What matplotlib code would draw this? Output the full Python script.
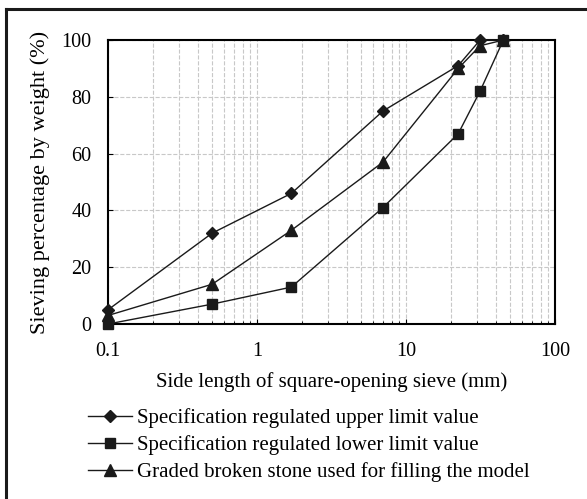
import matplotlib.pyplot as plt
from matplotlib.lines import Line2D

plt.rcParams['font.family'] = ['Liberation Serif', 'DejaVu Serif']

# 篩孔尺寸 (mm)
sizes = [0.1, 0.5, 1.7, 7, 22.4, 31.4, 45]
upper = [5, 32, 46, 75, 91, 100, 100]
lower = [0, 7, 13, 41, 67, 82, 100]
graded = [3, 14, 33, 57, 90, 98, 100]

labels = ['Specification regulated upper limit value',
          'Specification regulated lower limit value',
          'Graded broken stone used for filling the model']

fig = plt.figure(figsize=(5.87, 4.99), dpi=100)
ax = fig.add_axes([0.184, 0.3507, 0.7615, 0.569])

c = '#1a1a1a'
ax.plot(sizes, upper, color=c, lw=1.0, marker='D', ms=5.8, label=labels[0], clip_on=False, zorder=3)
ax.plot(sizes, lower, color=c, lw=1.0, marker='s', ms=7.5, label=labels[1], clip_on=False, zorder=3)
ax.plot(sizes, graded, color=c, lw=1.0, marker='^', ms=9, label=labels[2], clip_on=False, zorder=3)

ax.set_xscale('log')
ax.set_xlim(0.1, 100)
ax.set_ylim(0, 100)
ax.set_yticks(range(0, 101, 20))
ax.set_xticks([0.1, 1, 10, 100])
ax.set_xticklabels(['0.1', '1', '10', '100'])

# 格線
ax.grid(True, which='major', color='#c8c8c8', ls='--', lw=0.8)
ax.grid(True, which='minor', axis='x', color='#c8c8c8', ls='--', lw=0.8)
ax.set_axisbelow(True)

ax.tick_params(which='both', direction='in', labelsize=14.5, top=False, right=False)
ax.tick_params(axis='x', pad=13)
ax.tick_params(axis='y', pad=12)
for s in ax.spines.values():
    s.set_linewidth(1.5)

ax.set_xlabel('Side length of square-opening sieve (mm)', fontsize=15, va='center')
ax.xaxis.set_label_coords(0.5, -0.204)
ax.set_ylabel('Sieving percentage by weight (%)', fontsize=16, va='center')
ax.yaxis.set_label_coords(-0.152, 0.5)

ax.legend(loc='upper left', bbox_to_anchor=(0.150, 0.182), bbox_transform=fig.transFigure,
          frameon=False, fontsize=15, handlelength=2.1, handletextpad=0.25,
          labelspacing=0.35, borderaxespad=0, borderpad=0)

# 外框 (只有上緣和左緣)
fig.add_artist(Line2D([6 / 587, 6 / 587], [0, 1 - 9 / 499], color=c, lw=2.2, transform=fig.transFigure))
fig.add_artist(Line2D([6 / 587, 1], [1 - 9 / 499, 1 - 9 / 499], color=c, lw=2.2, transform=fig.transFigure))

fig.savefig('out.png', dpi=100)
